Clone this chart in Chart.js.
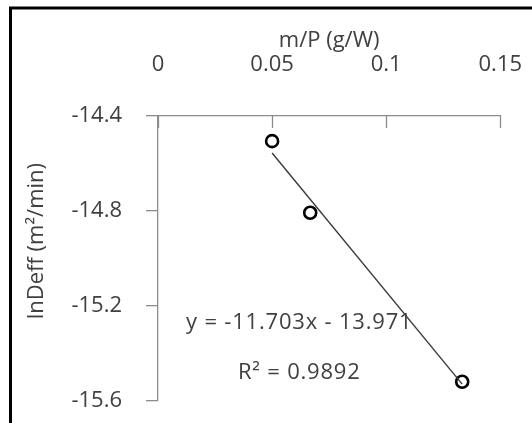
<!DOCTYPE html>
<html>
<head>
<meta charset="utf-8">
<script src="https://cdn.jsdelivr.net/npm/chart.js@4/dist/chart.umd.min.js"></script>
<style>
  html, body { margin: 0; padding: 0; background: #fff; }
  canvas { display: block; }
</style>
</head>
<body>
<canvas id="chart" width="532" height="423"></canvas>
<script>
// data
const massPower = [0.05, 0.0667, 0.1333];
const lnDeff = [-14.506, -14.808, -15.521];
const xTicks = [0, 0.05, 0.1, 0.15];
const yTicks = [-14.4, -14.8, -15.2, -15.6];

// trendline as printed on the chart
const slope = -11.703;
const intercept = -13.971;
const eqText = 'y = -11.703x - 13.971';
const r2Text = 'R² = 0.9892';

const textColor = '#404040';
const axisColor = '#8c8c8c';
const fontFamily = "'Open Sans', 'Noto Sans', sans-serif";
const fontSize = 22;

const points = massPower.map((x, i) => ({ x: x, y: lnDeff[i] }));
const xMin = Math.min(...massPower);
const xMax = Math.max(...massPower);
const trend = [
    { x: xMin, y: slope * xMin + intercept },
    { x: xMax, y: slope * xMax + intercept }
];

// outer frame (left and top edge of the cropped chart box)
const framePlugin = {
    id: 'frame',
    beforeDraw(chart) {
        const ctx = chart.ctx;
        ctx.save();
        ctx.fillStyle = '#fff';
        ctx.fillRect(0, 0, chart.width, chart.height);
        ctx.strokeStyle = '#000';
        ctx.lineWidth = 3;
        ctx.beginPath();
        ctx.moveTo(10.5, chart.height + 5);
        ctx.lineTo(10.5, 8);
        ctx.lineTo(chart.width + 5, 8);
        ctx.stroke();
        ctx.restore();
    }
};

// x tick marks point down into the plot, and the trendline labels
const extrasPlugin = {
    id: 'extras',
    afterDraw(chart) {
        const ctx = chart.ctx;
        const xs = chart.scales.x;
        const ys = chart.scales.y;
        const top = chart.chartArea.top;
        ctx.save();
        ctx.strokeStyle = axisColor;
        ctx.lineWidth = 1.3;
        xTicks.forEach(v => {
            const px = Math.round(xs.getPixelForValue(v)) + 0.5;
            ctx.beginPath();
            ctx.moveTo(px, top);
            ctx.lineTo(px, top + 12);
            ctx.stroke();
        });

        ctx.fillStyle = textColor;
        ctx.font = fontSize + 'px ' + fontFamily;
        ctx.textAlign = 'center';
        ctx.textBaseline = 'middle';
        ctx.letterSpacing = '0.8px';
        ctx.fillText(eqText, xs.getPixelForValue(0.0619), ys.getPixelForValue(-15.274));
        ctx.fillText(r2Text, xs.getPixelForValue(0.0619), ys.getPixelForValue(-15.481));
        ctx.restore();
    }
};

new Chart(document.getElementById('chart'), {
    type: 'scatter',
    data: {
        datasets: [
            {
                label: 'trend',
                type: 'line',
                data: trend,
                borderColor: '#3a3a3a',
                borderWidth: 1.4,
                pointRadius: 0,
                fill: false,
                order: 0
            },
            {
                label: 'lnDeff',
                data: points,
                pointStyle: 'circle',
                pointRadius: 6,
                pointHoverRadius: 6,
                pointBorderWidth: 2.6,
                borderColor: '#000',
                backgroundColor: 'rgba(0,0,0,0)',
                order: 1
            }
        ]
    },
    options: {
        responsive: false,
        animation: false,
        devicePixelRatio: 1,
        layout: { padding: { left: 0, top: 0, right: 31.7, bottom: 22.5 } },
        plugins: {
            legend: { display: false },
            tooltip: { enabled: false }
        },
        scales: {
            x: {
                type: 'linear',
                position: 'top',
                min: 0,
                max: 0.15,
                afterBuildTicks: s => { s.ticks = xTicks.map(v => ({ value: v })); },
                afterFit: s => {
                    s.height = 116;
                    s.paddingLeft = 0;
                    s.paddingRight = 0;
                },
                ticks: {
                    color: textColor,
                    font: { family: fontFamily, size: fontSize },
                    padding: 38,
                    maxRotation: 0,
                    callback: v => String(v)
                },
                grid: { display: true, drawOnChartArea: false, drawTicks: false },
                border: { display: true, color: axisColor, width: 1.3 },
                title: {
                    display: true,
                    text: 'm/P (g/W)',
                    color: textColor,
                    font: { family: fontFamily, size: fontSize },
                    padding: { top: 28, bottom: 0 }
                }
            },
            y: {
                type: 'linear',
                position: 'left',
                min: -15.6,
                max: -14.4,
                afterBuildTicks: s => { s.ticks = yTicks.map(v => ({ value: v })); },
                afterFit: s => {
                    s.width = 158;
                    s.paddingTop = 0;
                    s.paddingBottom = 0;
                },
                ticks: {
                    color: textColor,
                    font: { family: fontFamily, size: fontSize },
                    padding: 24,
                    callback: v => v.toFixed(1)
                },
                grid: {
                    display: true,
                    drawOnChartArea: false,
                    drawTicks: true,
                    tickLength: 12,
                    color: axisColor,
                    lineWidth: 1.3
                },
                border: { display: true, color: axisColor, width: 1.3 },
                title: {
                    display: true,
                    text: '      lnDeff (m²/min)',
                    color: textColor,
                    font: { family: fontFamily, size: fontSize },
                    padding: { top: 24, bottom: 0 }
                }
            }
        }
    },
    plugins: [framePlugin, extrasPlugin]
});
</script>
</body>
</html>
